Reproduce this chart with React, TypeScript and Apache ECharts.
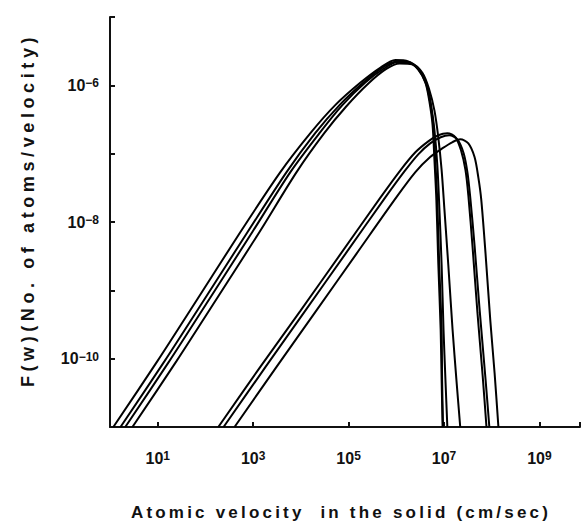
import React, { useEffect, useRef } from 'react';
import * as echarts from 'echarts';

// Axis extents are decades (log10 of the values)
const X_MIN = 0;
const X_MAX = 9.85;
const Y_MIN = -11;
const Y_MAX = -5;

const xLabelExponents = [1, 3, 5, 7, 9];
const yLabelExponents = [-10, -8, -6];

const xAxisTitle = 'Atomic velocity  in the solid (cm/sec)';
const yAxisTitle = 'F(w)(No. of atoms/velocity)';

// Each point: [log10 velocity (cm/sec), log10 F(w)]
const leftCurveA = [
  [0.07, -11.0], [0.99, -10.04], [1.83, -9.13], [2.73, -8.15], [3.57, -7.27], [4.20, -6.70],
  [4.72, -6.29], [5.25, -5.96], [5.67, -5.74], [5.98, -5.63], [6.25, -5.65], [6.46, -5.77],
  [6.61, -5.96], [6.69, -6.22], [6.76, -6.58], [6.80, -7.10], [6.84, -7.68], [6.88, -8.60],
  [6.93, -9.58], [6.95, -10.31], [6.97, -11.0],
];
const leftCurveB = [
  [0.22, -11.0], [1.14, -10.04], [1.98, -9.13], [2.88, -8.15], [3.70, -7.27], [4.30, -6.70],
  [4.81, -6.29], [5.31, -5.96], [5.71, -5.74], [6.00, -5.65], [6.27, -5.66], [6.48, -5.78],
  [6.63, -5.99], [6.71, -6.25], [6.78, -6.61], [6.82, -7.13], [6.86, -7.71], [6.90, -8.63],
  [6.95, -9.58], [6.96, -10.31], [6.98, -11.0],
];
const leftCurveC = [
  [0.32, -11.0], [1.24, -10.04], [2.08, -9.13], [2.98, -8.15], [3.78, -7.27], [4.39, -6.70],
  [4.87, -6.29], [5.35, -5.96], [5.75, -5.75], [6.03, -5.66], [6.30, -5.68], [6.51, -5.80],
  [6.65, -6.01], [6.73, -6.29], [6.80, -6.66], [6.86, -7.17], [6.90, -7.75], [6.95, -8.63],
  [6.99, -9.58], [7.03, -10.31], [7.07, -11.0],
];
const leftCurveD = [
  [0.47, -11.0], [1.39, -10.04], [2.23, -9.13], [3.13, -8.15], [3.91, -7.27], [4.49, -6.70],
  [4.95, -6.31], [5.42, -5.97], [5.79, -5.76], [6.07, -5.68], [6.34, -5.69], [6.55, -5.82],
  [6.69, -6.06], [6.80, -6.37], [6.88, -6.76], [6.95, -7.24], [7.01, -7.83], [7.09, -8.63],
  [7.18, -9.58], [7.26, -10.31], [7.34, -11.0],
];
const rightCurveA = [
  [2.27, -11.0], [3.15, -10.12], [3.99, -9.30], [4.83, -8.47], [5.67, -7.64], [6.09, -7.24],
  [6.40, -6.98], [6.67, -6.82], [6.88, -6.73], [7.07, -6.70], [7.24, -6.76], [7.36, -6.96],
  [7.45, -7.24], [7.51, -7.61], [7.60, -8.38], [7.70, -9.32], [7.81, -10.25], [7.89, -11.0],
];
const rightCurveB = [
  [2.38, -11.0], [3.26, -10.12], [4.09, -9.30], [4.93, -8.47], [5.77, -7.64], [6.17, -7.26],
  [6.46, -7.01], [6.71, -6.85], [6.93, -6.76], [7.11, -6.73], [7.28, -6.79], [7.41, -6.99],
  [7.49, -7.27], [7.55, -7.64], [7.64, -8.34], [7.74, -9.23], [7.87, -10.30], [7.95, -11.0],
];
const rightCurveC = [
  [2.61, -11.0], [3.49, -10.12], [4.32, -9.30], [5.16, -8.47], [6.00, -7.64], [6.40, -7.27],
  [6.71, -7.05], [6.97, -6.92], [7.18, -6.83], [7.34, -6.79], [7.51, -6.85], [7.64, -7.05],
  [7.72, -7.35], [7.78, -7.67], [7.87, -8.46], [7.97, -9.44], [8.06, -10.21], [8.14, -11.0],
];

const curves = [
  leftCurveA, leftCurveB, leftCurveC, leftCurveD,
  rightCurveA, rightCurveB, rightCurveC,
];

const FONT = "'Liberation Sans', Arial, sans-serif";
const INK = '#111';

const css = `
#chart-root text[style*="17px"] { letter-spacing: 3.2px; }
#chart-root text[style*="18px"] { letter-spacing: 4.6px; }
`;

const powerRich = {
  a: { fontFamily: FONT, fontSize: 16, fontWeight: 'bold', color: INK },
  b: { fontFamily: FONT, fontSize: 12, fontWeight: 'bold', color: INK, verticalAlign: 'top' },
};

const sup = (v: number) => String(v).replace('-', '\u2212');

export default function App() {
  const ref = useRef<HTMLDivElement>(null);

  useEffect(() => {
    document.body.style.margin = '0';
    const chart = echarts.init(ref.current as HTMLDivElement, null, { renderer: 'svg' });
    chart.setOption({
      animation: false,
      backgroundColor: '#ffffff',
      grid: { left: 110, right: 2, top: 17, bottom: 99 },
      xAxis: {
        type: 'value',
        min: X_MIN,
        max: X_MAX,
        axisLine: { lineStyle: { color: INK, width: 2 } },
        axisTick: {
          inside: true,
          length: 5,
          lineStyle: { color: INK, width: 2 },
          customValues: [...xLabelExponents, X_MAX],
        },
        axisLabel: {
          customValues: xLabelExponents,
          margin: 23,
          fontSize: 16,
          fontWeight: 'bold',
          fontFamily: FONT,
          color: INK,
          formatter: (v: number) => `{a|10}{b|${sup(v)}}`,
          rich: powerRich,
        },
        splitLine: { show: false },
      },
      yAxis: {
        type: 'value',
        min: Y_MIN,
        max: Y_MAX,
        interval: 1,
        axisLine: { lineStyle: { color: INK, width: 2 } },
        axisTick: { inside: true, length: 5, lineStyle: { color: INK, width: 2 } },
        axisLabel: {
          customValues: yLabelExponents,
          margin: 11,
          fontSize: 16,
          fontWeight: 'bold',
          fontFamily: FONT,
          color: INK,
          formatter: (v: number) => `{a|10}{b|${sup(v)}}`,
          rich: powerRich,
        },
        splitLine: { show: false },
      },
      graphic: [
        {
          type: 'text',
          x: 341,
          y: 512,
          style: {
            text: xAxisTitle,
            fontFamily: FONT,
            fontSize: 17,
            fontWeight: 'bold',
            fill: INK,
            align: 'center',
            verticalAlign: 'middle',
          },
        },
        {
          type: 'text',
          x: 28,
          y: 210,
          rotation: Math.PI / 2,
          style: {
            text: yAxisTitle,
            fontFamily: FONT,
            fontSize: 18,
            fontWeight: 'bold',
            fill: INK,
            align: 'center',
            verticalAlign: 'middle',
          },
        },
      ],
      series: curves.map((data) => ({
        type: 'line',
        data,
        showSymbol: false,
        smooth: 0.3,
        silent: true,
        lineStyle: { color: '#000', width: 2 },
      })),
    });
    return () => chart.dispose();
  }, []);

  return (
    <>
      <style>{css}</style>
      <div id="chart-root" ref={ref} style={{ width: 582, height: 526 }} />
    </>
  );
}
